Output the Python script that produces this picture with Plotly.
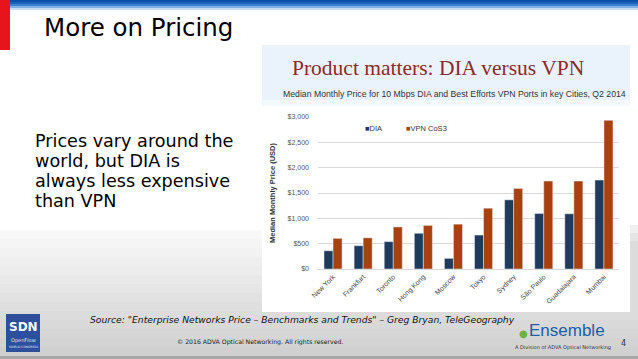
import plotly.graph_objects as go

cities = ["New York", "Frankfurt", "Toronto", "Hong Kong", "Moscow", "Tokyo",
          "Sydney", "São Paulo", "Guadalajara", "Mumbai"]
dia = [360, 460, 540, 705, 210, 670, 1365, 1095, 1090, 1755]
vpn = [605, 615, 830, 860, 885, 1200, 1590, 1735, 1735, 2935]
tick_vals = [0, 500, 1000, 1500, 2000, 2500, 3000]
tick_text = ["$0", "$500", "$1,000", "$1,500", "$2,000", "$2,500", "$3,000"]
series_names = ["DIA", "VPN CoS3"]
series_colors = ["#1E3A5C", "#A9400F"]
body_lines = ["Prices vary around the", "world, but DIA is", "always less expensive", "than VPN"]

W, H = 638, 359
L, R, T, B = 318, 619, 117, 269


def px(x, y):
    return (x - L) / (R - L), (B - y) / (B - T)


fig = go.Figure()
fig.add_trace(go.Bar(name=series_names[0], x=cities, y=dia, marker_color=series_colors[0]))
fig.add_trace(go.Bar(name=series_names[1], x=cities, y=vpn, marker_color=series_colors[1]))

shapes = []


def rect(x0, y0, x1, y1, color, layer="below"):
    a0, b0 = px(x0, y0)
    a1, b1 = px(x1, y1)
    shapes.append(dict(type="rect", xref="paper", yref="paper", x0=a0, y0=b1, x1=a1, y1=b0,
                       fillcolor=color, line_width=0, layer=layer))


# slide background gradient toward bottom
start, end = 230, 356
n = 14
for i in range(n):
    y0 = start + (end - start) * i / n
    y1 = start + (end - start) * (i + 1) / n + 0.5
    v = int(252 - (252 - 208) * (i + 1) / n)
    rect(0, y0, W, y1, "rgb(%d,%d,%d)" % (v, v, v))
rect(0, 356, W, H, "#A8A8A8")
# shadow right of the chart panel
for i, c in enumerate(["#F0F0F0", "#E6E6E6", "#DCDCDC"]):
    rect(630, 225 + i * 8, W, 312, c)
# top blue band
blues = ["#0B4FA8", "#1763BE", "#3A82D0", "#7FB0E0", "#C8DDF2"]
for i, c in enumerate(blues):
    rect(0, i * 2, W, i * 2 + 2, c)
# red side bar
rect(0, 0, 10, 50, "#E8141B")
# chart panel
rect(262, 45, 630, 312, "#FFFFFF")
rect(262, 45, 630, 100, "#EAF3FB")
rect(262, 100, 630, 106, "#F4F9FD")
# SDN logo
rect(6, 314, 40, 352, "#2E4F9C")

fig.update_layout(shapes=shapes)

ann = []


def text(x, y, s, size, color="#000000", xanchor="left", family="DejaVu Sans", **kw):
    a, b = px(x, y)
    ann.append(dict(xref="paper", yref="paper", x=a, y=b, text=s, showarrow=False,
                    xanchor=xanchor, yanchor="middle", align="left",
                    font=dict(size=size, color=color, family=family), **kw))


text(42, 27, "More on Pricing", 24.5)
for i, line in enumerate(body_lines):
    text(33, 141 + 20 * i, line, 17.6)
text(438, 68, "Product matters: DIA versus VPN", 21.5, "#8B2A2A", xanchor="center",
     family="Liberation Serif")
text(454, 94, "Median Monthly Price for 10 Mbps DIA and Best Efforts VPN Ports in key Cities, Q2 2014",
     8.7, "#333333", xanchor="center", family="Liberation Sans")
# legend (as text)
text(363, 128, "<span style='color:%s'>■</span>%s" % (series_colors[0], series_names[0]),
     7.5, "#333333", family="Liberation Sans")
text(404, 128, "<span style='color:%s'>■</span>%s" % (series_colors[1], series_names[1]),
     7.5, "#333333", family="Liberation Sans")
text(88, 319, "<i>Source: \"Enterprise Networks Price – Benchmarks and Trends\" – Greg Bryan, TeleGeography</i>",
     9.2, "#111111")
text(260, 342, "© 2016 ADVA Optical Networking. All rights reserved.", 6.2, "#222222", xanchor="center")
text(567, 330, "Ensemble", 17, "#1B5EA8", xanchor="center", family="Liberation Sans")
text(523, 333, "●", 10, "#6DB33F", xanchor="center")
text(563, 347, "A Division of ADVA Optical Networking", 5, "#333333", xanchor="center")
text(623, 343, "4", 8, "#333333", xanchor="center")
text(23, 327, "<b>SDN</b>", 12, "#FFFFFF", xanchor="center")
text(23, 340, "OpenFlow", 5, "#DDE6F5", xanchor="center")
text(23, 347, "WORLD CONGRESS", 3, "#DDE6F5", xanchor="center")

fig.update_layout(annotations=ann)

fig.update_layout(
    width=W, height=H,
    margin=dict(l=L, r=W - R, t=T, b=H - B, pad=0),
    paper_bgcolor="#FFFFFF",
    plot_bgcolor="rgba(0,0,0,0)",
    barmode="group",
    bargap=0.4,
    bargroupgap=0,
    showlegend=False,
    yaxis=dict(range=[0, 3000], tickvals=tick_vals, ticktext=tick_text, showgrid=True,
               gridcolor="#D9D9D9", gridwidth=1, zeroline=False, showline=False,
               tickfont=dict(size=7, color="#555555", family="Liberation Sans"),
               ticks="", ticklabelstandoff=8, automargin=False,
               title=dict(text="<b>Median Monthly Price (USD)</b>", standoff=10,
                          font=dict(size=7.5, color="#333333", family="Liberation Sans"))),
    xaxis=dict(tickangle=-45, tickfont=dict(size=7, color="#444444", family="Liberation Sans"),
               showline=True, linecolor="#D9D9D9", showgrid=False, ticks="", automargin=False),
)

fig.write_html("out.html", config={"displayModeBar": False},
               post_script="document.body.style.margin='0';document.body.style.overflow='hidden';")
